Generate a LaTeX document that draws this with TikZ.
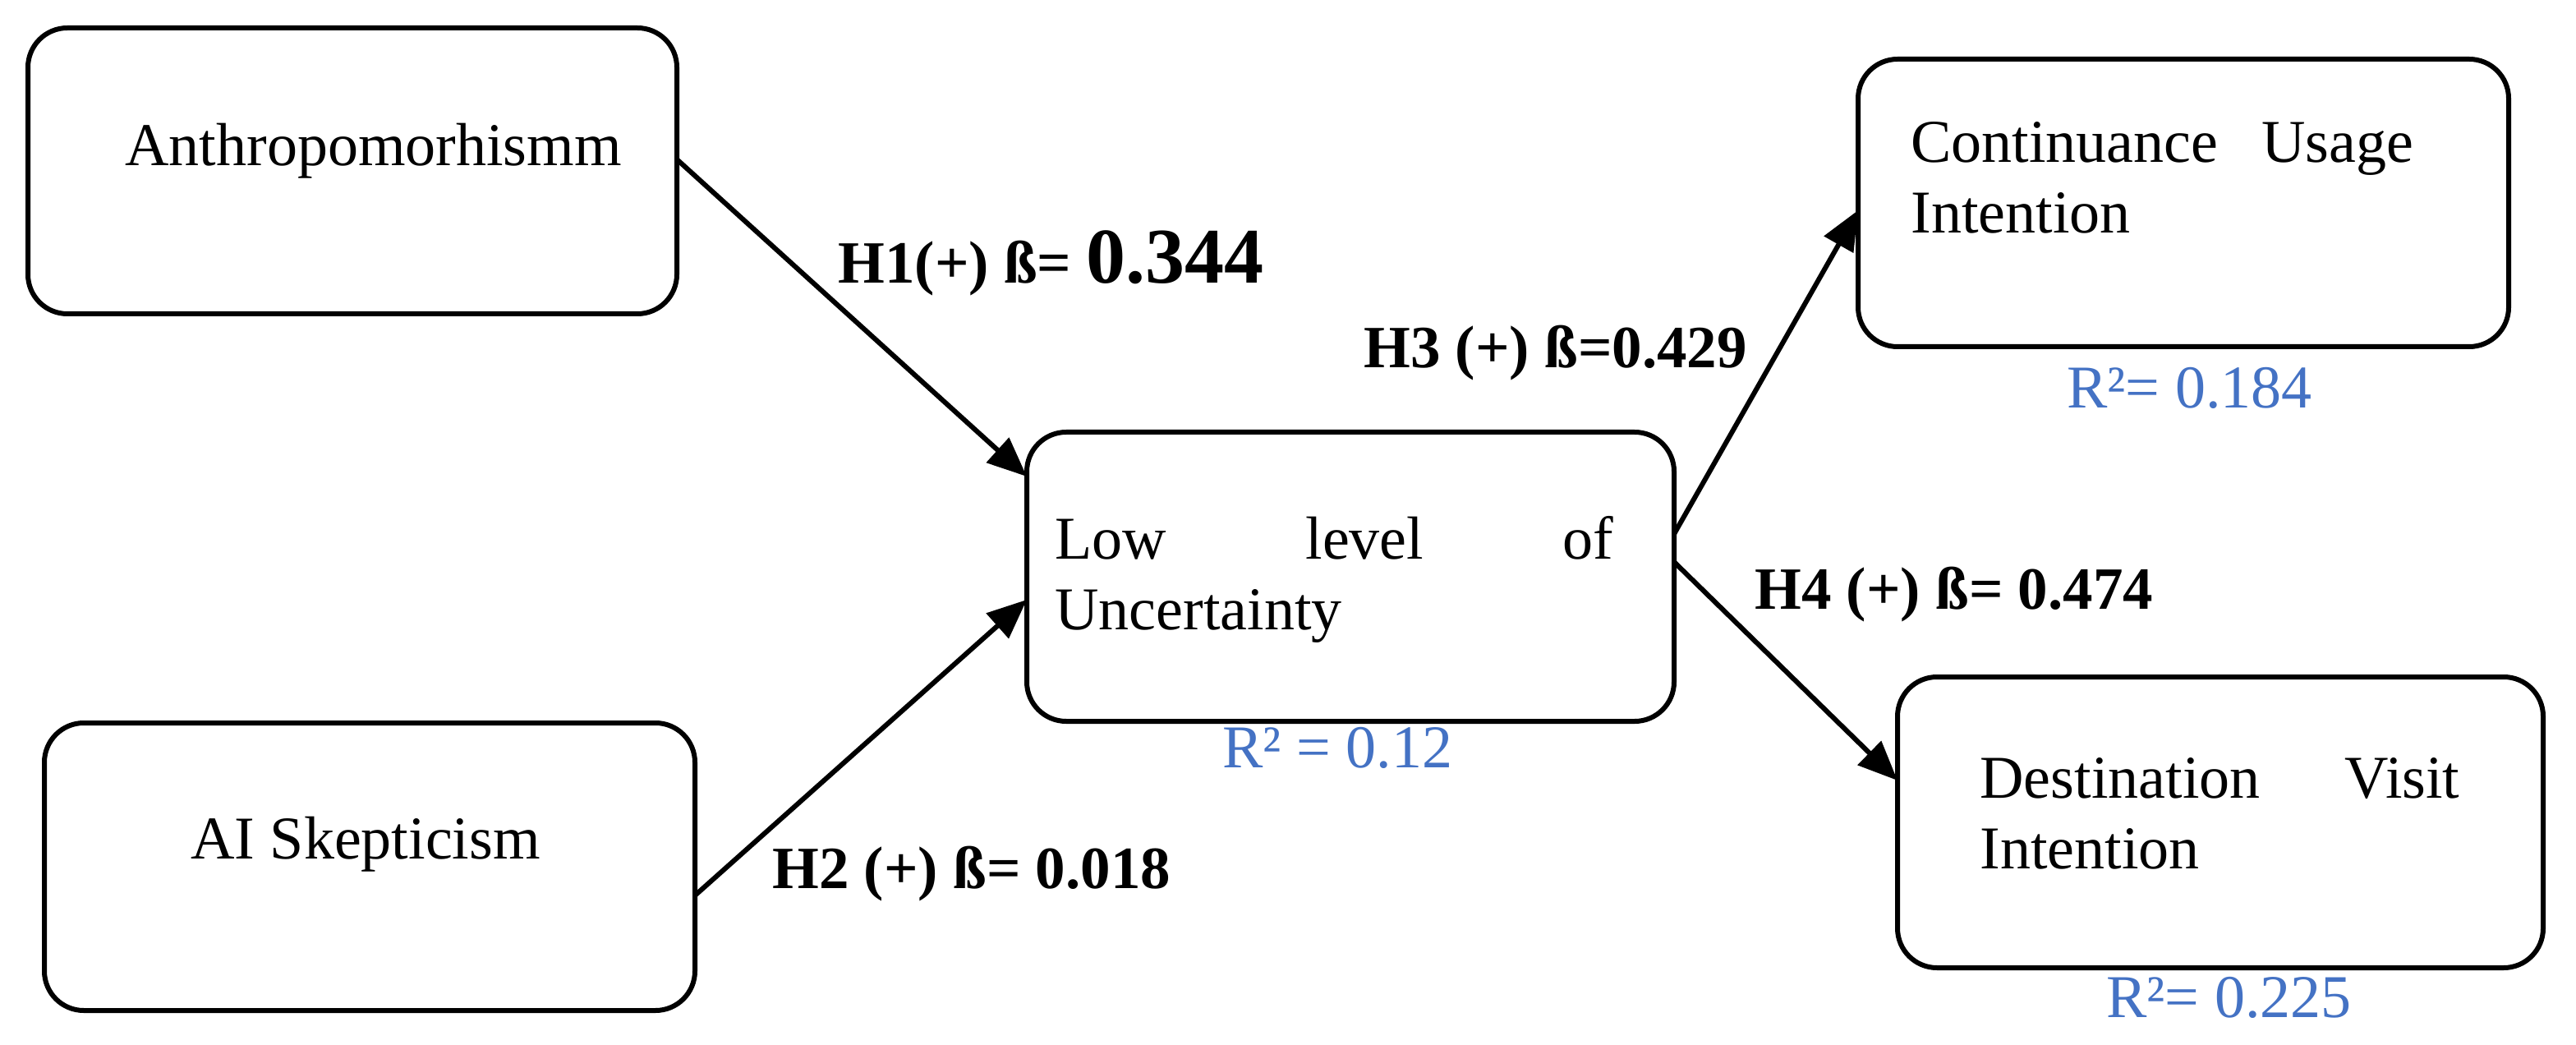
\documentclass[tikz,border=0pt]{standalone}
\usepackage{fontspec}
\setmainfont{Liberation Serif}
\usetikzlibrary{arrows.meta}
\begin{document}
\begin{tikzpicture}[x=1pt,y=-1pt,
 box/.style={draw,line width=3pt,rounded corners=24pt},
 arr/.style={line width=3pt,-{Triangle[length=24pt,width=20pt]}},
 lab/.style={font=\fontsize{36.5}{40}\selectfont\bfseries,anchor=west,inner sep=0pt},
 rsq/.style={font=\fontsize{37}{40}\selectfont,text={rgb,255:red,68;green,114;blue,196},anchor=west,inner sep=0pt},
 txt/.style={font=\fontsize{37}{43}\selectfont,anchor=west,inner sep=0pt}]
\useasboundingbox (0,0) rectangle (1568,636);
\draw[box] (17,17) rectangle (412,191); \coordinate (a) at (412,97);
\draw[box] (27,440) rectangle (423,615); \coordinate (b) at (423,545);
\draw[box] (625,263) rectangle (1019,439);
\draw[box] (1131,36) rectangle (1527,211);
\draw[box] (1155,412) rectangle (1548,589);
\node[txt] (ta) at (76,92) {Anthropomorhismm};
\node[txt] (tb) at (116,514) {AI Skepticism};
\node[txt,align=left,text width=340pt,anchor=north west] (tl) at (642,314) {Low\hfill level\hfill of\\Uncertainty};
\node[txt,align=left,text width=306pt,anchor=north west] (tc) at (1163,74) {Continuance\hfill Usage\\Intention};
\node[txt,align=left,text width=292pt,anchor=north west] (td) at (1205,461) {Destination\hfill Visit\\Intention};
\coordinate (l1) at (625,290); \coordinate (l2) at (625,365);
\coordinate (l3) at (1019,325); \coordinate (l4) at (1019,342);
\coordinate (c) at (1131,128); \coordinate (d) at (1155,475);
\draw[arr] (a) -- (l1);
\draw[arr] (b) -- (l2);
\draw[arr] (l3) -- (c);
\draw[arr] (l4) -- (d);
\node[lab] (h1) at (510,160) {H1(+) ß= {\fontsize{48}{52}\selectfont 0.344}};
\node[lab] (h2) at (470,532) {H2 (+) ß= 0.018};
\node[lab] (h3) at (830,215) {H3 (+) ß=0.429};
\node[lab] (h4) at (1068,362) {H4 (+) ß= 0.474};
\node[rsq] (r1) at (744,455) {R² = 0.12};
\node[rsq] (r2) at (1258,236) {R²= 0.184};
\node[rsq] (r3) at (1282,607) {R²= 0.225};
\end{tikzpicture}
\end{document}
